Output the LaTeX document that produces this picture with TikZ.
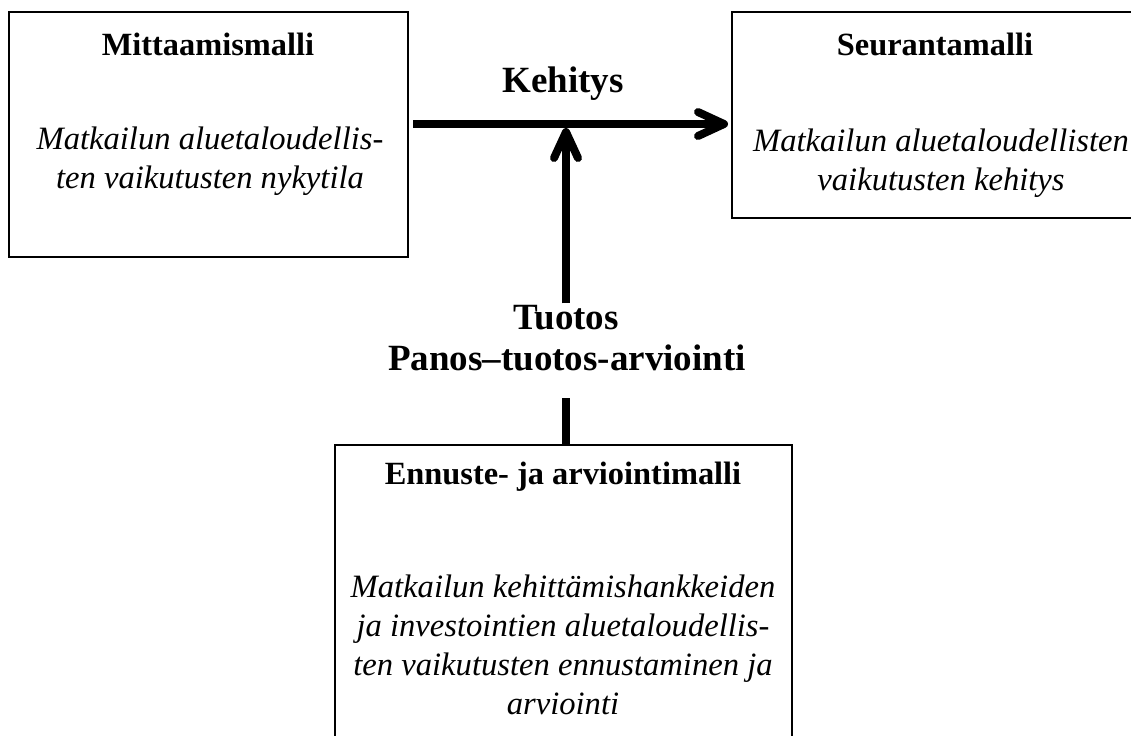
\documentclass[tikz,border=0pt]{standalone}
\usepackage{fontspec}
\setmainfont{Liberation Serif}
\usepackage{tikz}
\usetikzlibrary{positioning,arrows.meta}

\begin{document}
\begin{tikzpicture}[x = .5pt, y = -.5pt,
  malli/.style = {draw, line width = 1pt, inner sep = 0pt},
  otsikko/.style = {font = \fontsize{16.2}{19.5}\selectfont\bfseries},
  kuvaus/.style = {align = center, font = \fontsize{16.3}{19.5}\selectfont\itshape},
  suuri/.style = {font = \fontsize{18.5}{20}\selectfont\bfseries, inner sep = 1pt},
  nuoli/.style = {line width = 4pt, -{Straight Barb[length = 13pt, width = 12pt, round]}}]
\clip (0,0) rectangle (1131,735);
\node[malli, minimum width = 199.5pt, minimum height = 122.5pt] (mitta) at (208.5,134.5) {};
\node[malli, minimum width = 206pt, minimum height = 103pt] (seuranta) at (938,115) {};
\node[malli, minimum width = 228.5pt, minimum height = 160pt] (ennuste) at (563.5,605) {};
\node[otsikko] (mittaT) at (208,44) {Mittaamismalli};
\node[kuvaus] (mittaK) at (210,161) {Matkailun aluetaloudellis-\\ten vaikutusten nykytila};
\node[otsikko] (seurantaT) at (935,44) {Seurantamalli};
\node[kuvaus] (seurantaK) at (941,163) {Matkailun aluetaloudellisten\\vaikutusten kehitys};
\node[otsikko] (ennusteT) at (563,477) {Ennuste- ja arviointimalli};
\node[kuvaus] (ennusteK) at (563,645) {Matkailun kehittämishankkeiden\\ja investointien aluetaloudellis-\\ten vaikutusten ennustaminen ja\\arviointi};
\node[suuri] (kehitys) at (563,84) {Kehitys};
\node[suuri] (tuotos) at (566,318) {Tuotos};
\node[suuri] (panos) at (567,358) {Panos–tuotos-arviointi};
\coordinate (haara) at (566,124);
\draw[nuoli, shorten <= 2pt, shorten >= 1.5pt] (mitta.east |- haara) -- (seuranta.west |- haara);
\draw[nuoli, shorten >= 2pt] (tuotos.north -| haara) -- (haara);
\draw[line width = 4pt, shorten <= 12.5pt] (panos.south -| haara) -- (ennuste.north -| haara);
\end{tikzpicture}
\end{document}
